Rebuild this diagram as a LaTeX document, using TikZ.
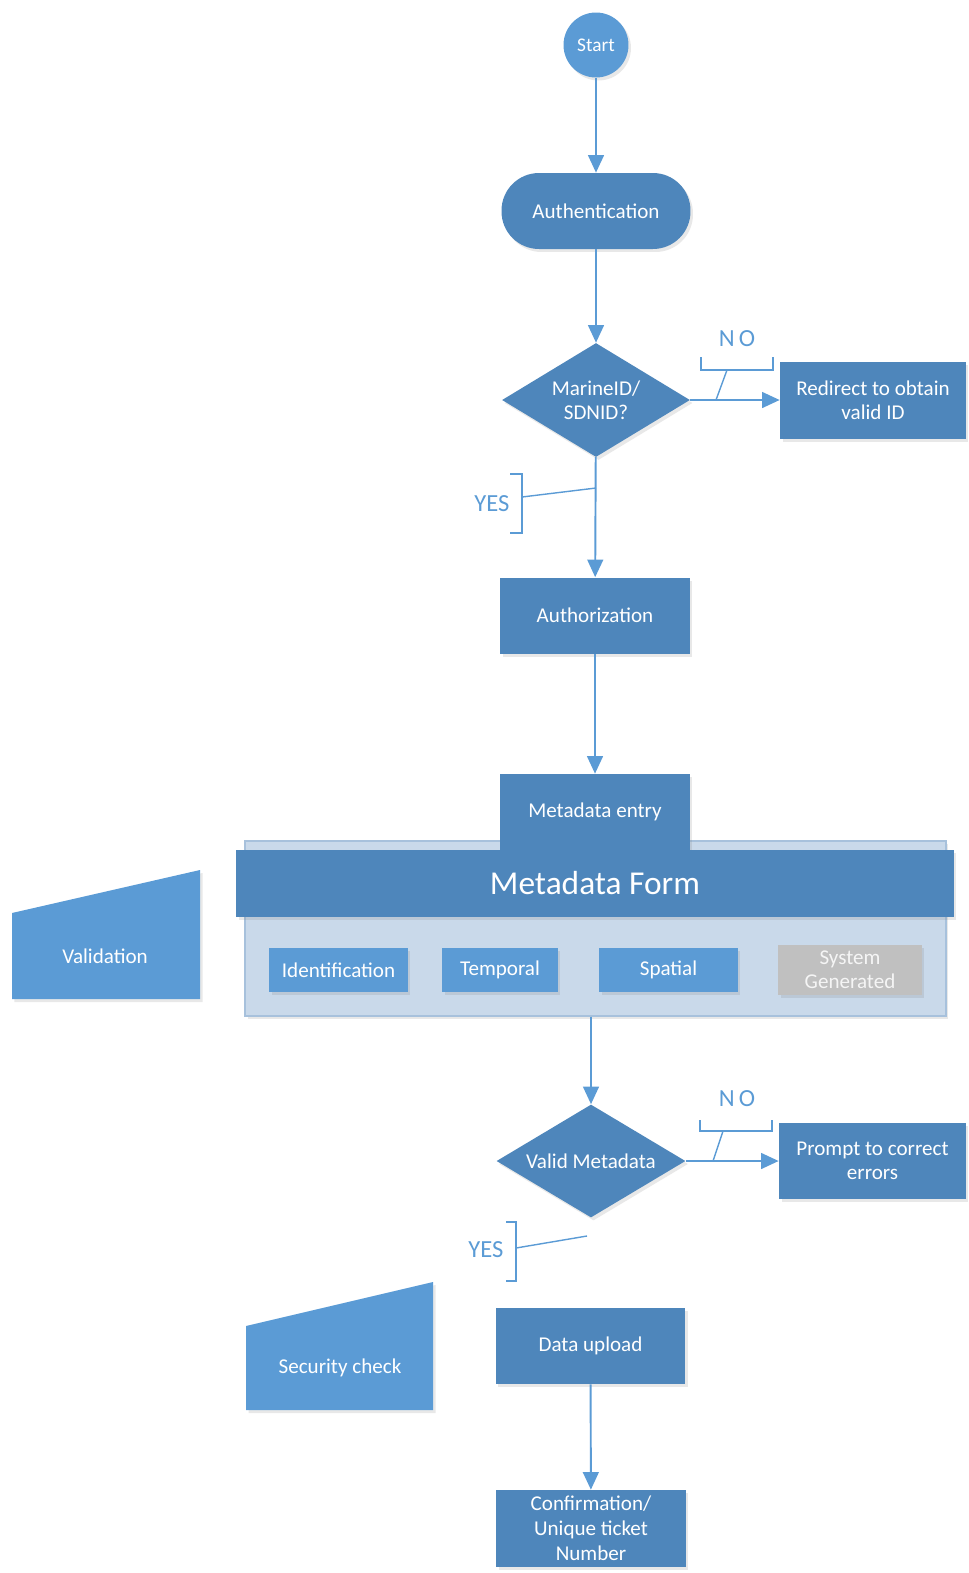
\documentclass[tikz,border=0pt]{standalone}
\usepackage{fontspec}
\setmainfont{Carlito}
\usetikzlibrary{shapes.geometric, arrows.meta, shadows}
\definecolor{boxblue}{HTML}{4E86BB}
\definecolor{lightblue}{HTML}{5B9BD5}
\definecolor{paleblue}{HTML}{C9D9EA}
\definecolor{frameblue}{HTML}{A7C1DC}
\definecolor{sysgray}{HTML}{C0C0C0}
\tikzstyle{soft} = [drop shadow={opacity=0.18, shadow xshift=0.05cm, shadow yshift=-0.06cm}]
\tikzstyle{process} = [rectangle, 
minimum width=3.8cm, 
minimum height=1.52cm, 
align=center, 
text=white, 
fill=boxblue, 
font=\fontsize{12}{13.8}\selectfont, 
soft]
\tikzstyle{decision} = [diamond, 
aspect=1.65, 
minimum width=3.76cm, 
minimum height=2.28cm, 
inner sep=0pt, 
align=center, 
text=white, 
fill=boxblue, 
font=\fontsize{12}{13.8}\selectfont, 
soft]
\tikzstyle{startstop} = [circle, minimum size=1.3cm, text=white, fill=lightblue, font=\fontsize{11}{13}\selectfont, soft]
\tikzstyle{terminal} = [process, rounded corners=0.75cm, minimum width=3.78cm]
\tikzstyle{field} = [rectangle, minimum height=0.88cm, align=center, text=white, fill=lightblue, font=\fontsize{12}{13.8}\selectfont, soft]
\tikzstyle{manual} = [fill=lightblue, soft]
\tikzstyle{answer} = [text=lightblue, font=\fontsize{14}{16}\selectfont]
\tikzstyle{bracket} = [line width=0.8pt, draw=lightblue]
\tikzstyle{arrow} = [line width=1.1pt, draw=lightblue, -{Triangle[length=10pt,width=9pt]}]

\begin{document}
\begin{tikzpicture}[x=0.02cm, y=-0.02cm]
        \useasboundingbox (0,0) rectangle (969,1573);
        \node (start) [startstop] at (596,45) {Start};
        \node (auth) [terminal] at (596,211) {Authentication};
        \node (idcheck) [decision] at (596,400) {MarineID/\\SDNID?};
        \node (redirect) [process, minimum width=3.72cm, minimum height=1.54cm] at (873,400) {Redirect to obtain\\valid ID};
        \node (authz) [process] at (595,615.5) {Authorization};
        \node (form) [rectangle, fill=paleblue, draw=frameblue, line width=0.8pt, minimum width=14.02cm, minimum height=3.5cm, soft] at (595.5,928.5) {};
        \node (entry) [process] at (595,812) {Metadata entry};
        \node (formhead) [process, minimum width=14.36cm, minimum height=1.34cm, font=\fontsize{19}{22}\selectfont] at (595,883.5) {Metadata Form};
        \node (ident) [field, minimum width=2.78cm] at (338.5,970) {Identification};
        \node (temporal) [field, minimum width=2.32cm] at (500,970) {Temporal};
        \node (spatial) [field, minimum width=2.78cm] at (668.5,970) {Spatial};
        \node (sysgen) [field, minimum width=2.88cm, fill=sysgray, text=white!92!gray] at (850,970) {System\\Generated};
        \fill [manual] (12,913) -- (200,870) -- (200,999) -- (12,999) -- cycle;
        \node (validation) [text=white, font=\fontsize{12}{13.8}\selectfont] at (105,956) {Validation};
        \node (vmeta) [decision, minimum width=3.78cm, minimum height=2.26cm] at (591,1161) {Valid Metadata};
        \node (prompt) [process, minimum width=3.74cm] at (872.5,1161) {Prompt to correct\\errors};
        \fill [manual] (246,1326) -- (433,1282) -- (433,1410) -- (246,1410) -- cycle;
        \node (security) [text=white, font=\fontsize{12}{13.8}\selectfont] at (340,1368) {Security check};
        \node (upload) [process] at (590.5,1346) {Data upload};
        \node (confirm) [process, minimum height=1.54cm, font=\fontsize{12}{14.2}\selectfont] at (591,1528.5) {Confirmation/\\Unique ticket\\Number};
        \draw [arrow] (start) -- (auth);
        \draw [arrow] (auth) -- (idcheck);
        \draw [arrow] (idcheck) -- (redirect);
        \draw [arrow] (idcheck) -- (authz);
        \draw [arrow] (authz) -- (entry);
        \draw [arrow] (form.south -| vmeta.north) -- (vmeta.north);
        \draw [arrow] (vmeta) -- (prompt);
        \draw [arrow] (upload) -- (confirm);
        \node (no1) [answer] at (737,339) {N\,O};
        \draw [bracket] (701,357) -- (701,370) -- (773,370) -- (773,357);
        \draw [bracket] (727,370) -- (716,400);
        \node (yes1) [answer] at (492,504) {YES};
        \draw [bracket] (510,474) -- (522,474) -- (522,533) -- (510,533);
        \draw [bracket] (522,497) -- (596,488);
        \node (no2) [answer] at (737,1099) {N\,O};
        \draw [bracket] (700,1120) -- (700,1131) -- (772,1131) -- (772,1120);
        \draw [bracket] (723,1131) -- (713,1161);
        \node (yes2) [answer] at (486,1250) {YES};
        \coordinate (yesend) at (587,1236);
        \draw [bracket] (506,1222) -- (516,1222) -- (516,1281) -- (506,1281);
        \draw [bracket] (516,1248) -- (yesend);
    \end{tikzpicture}
\end{document}
